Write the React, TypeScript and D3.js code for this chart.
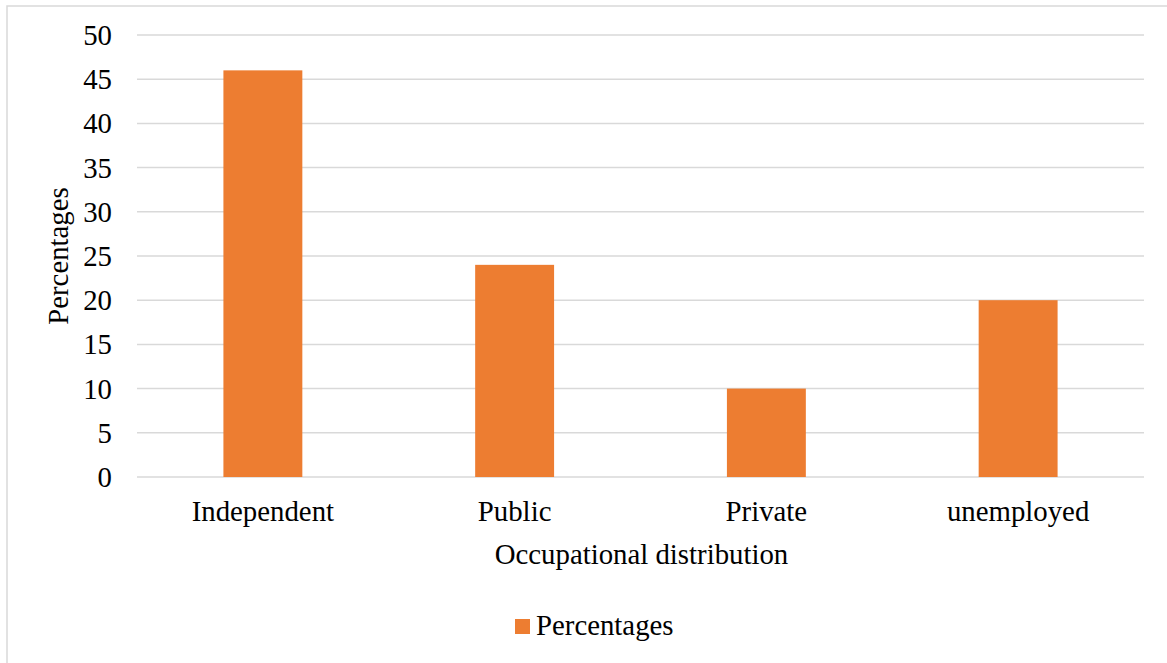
import React from "react";
import * as d3 from "d3";

const categories = ["Independent", "Public", "Private", "unemployed"];
const values = [46, 24, 10, 20];
const yTicks = [0, 5, 10, 15, 20, 25, 30, 35, 40, 45, 50];
const seriesName = "Percentages";
const xTitle = "Occupational distribution";
const yTitle = "Percentages";

const W = 1167;
const H = 663;
const left = 137;
const right = 1144;
const top = 35;
const bottom = 477;
const FONT = "'Liberation Serif', 'Times New Roman', serif";
const FS = 28.8;
const BAR = "#ED7D31";
const GRID = "#d9d9d9";

export default function App() {
  const x = d3.scaleBand<string>().domain(categories).range([left, right]).padding(0);
  const y = d3.scaleLinear().domain([0, 50]).range([bottom, top]);
  const barW = x.bandwidth() * 0.3135;

  return (
    <svg
      width={W}
      height={H}
      style={{ position: "absolute", left: 0, top: 0, background: "#fff" }}
      fontFamily={FONT}
    >
      <rect x={7} y={6} width={W + 10} height={H + 10} fill="#fff" stroke={GRID} strokeWidth={1.5} />
      {yTicks.map((t) => (
        <g key={t}>
          <line x1={left} x2={right} y1={y(t)} y2={y(t)} stroke={GRID} strokeWidth={1.5} />
          <text x={112} y={y(t)} dy="0.35em" textAnchor="end" fontSize={FS} fill="#000">
            {t}
          </text>
        </g>
      ))}
      {categories.map((c, i) => (
        <g key={c}>
          <rect
            x={(x(c) as number) + x.bandwidth() / 2 - barW / 2}
            y={y(values[i])}
            width={barW}
            height={y(0) - y(values[i])}
            fill={BAR}
          />
          <text
            x={(x(c) as number) + x.bandwidth() / 2}
            y={521}
            textAnchor="middle"
            fontSize={FS}
            fill="#000"
          >
            {c}
          </text>
        </g>
      ))}
      <text x={(left + right) / 2 + 1} y={564} textAnchor="middle" fontSize={FS} fill="#000">
        {xTitle}
      </text>
      <text
        transform={`translate(68, ${(top + bottom) / 2}) rotate(-90)`}
        textAnchor="middle"
        fontSize={FS}
        fill="#000"
      >
        {yTitle}
      </text>
      <rect x={515} y={619} width={15} height={15} fill={BAR} />
      <text x={536} y={635} fontSize={FS} fill="#000">
        {seriesName}
      </text>
    </svg>
  );
}
